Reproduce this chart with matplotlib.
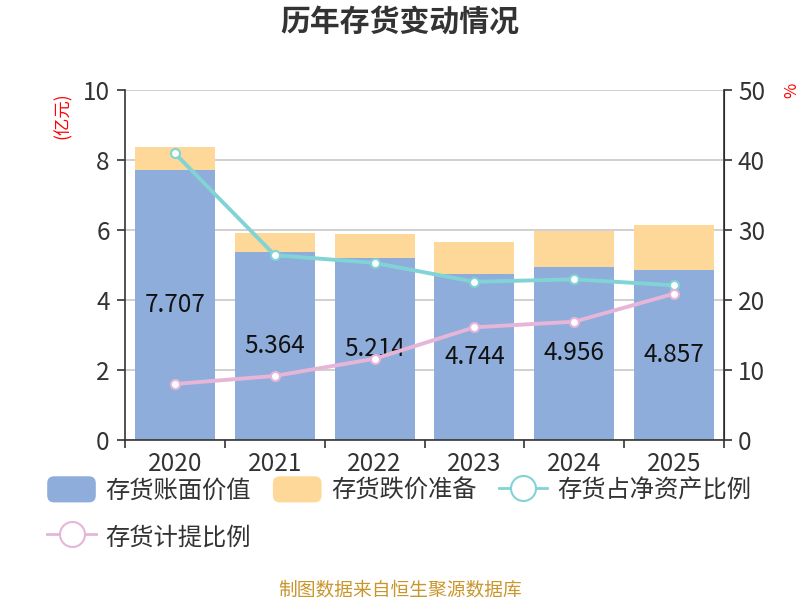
import numpy as np
import matplotlib
matplotlib.use("Agg")
import matplotlib.pyplot as plt
from matplotlib.lines import Line2D
from matplotlib.patches import Patch, FancyBboxPatch
from matplotlib.legend_handler import HandlerPatch

plt.rcParams['font.family'] = ['Noto Sans CJK SC', 'DejaVu Sans']

years = ['2020', '2021', '2022', '2023', '2024', '2025']
book_value = [7.707, 5.364, 5.214, 4.744, 4.956, 4.857]
impairment = [0.67, 0.54, 0.68, 0.91, 1.01, 1.28]
net_asset_ratio = [40.95, 26.4, 25.3, 22.6, 22.95, 22.1]
provision_ratio = [8.0, 9.15, 11.6, 16.1, 16.9, 20.9]

c_blue = '#8EADDA'
c_orange = '#FED898'
c_cyan = '#82D3D5'
c_pink = '#E6B5D8'
c_text = '#333333'
fs = 17.5

fig = plt.figure(figsize=(8, 6), dpi=100)
ax = fig.add_axes([0.15625, 0.2667, 0.74875, 0.5833])
ax2 = ax.twinx()

x = np.arange(len(years))
ax.bar(x, book_value, width=0.8, color=c_blue, zorder=2)
ax.bar(x, impairment, width=0.8, bottom=book_value, color=c_orange, zorder=2)
for xi, v in zip(x, book_value):
    ax.text(xi, v / 2, f'{v:.3f}', ha='center', va='center', fontsize=fs, color='#111111', zorder=5)

ax.set_xlim(-0.5, len(years) - 0.5)
ax.set_ylim(0, 10)
ax.set_yticks([0, 2, 4, 6, 8, 10])
ax.yaxis.grid(True, color='#c8c8c8', linewidth=1.2, zorder=0)
ax.set_axisbelow(True)
ax.set_xticks(x)
ax.set_xticklabels(years)
ax.set_xticks(np.arange(len(years) + 1) - 0.5, minor=True)
ax.tick_params(axis='x', which='major', length=0, labelsize=fs, labelcolor=c_text, pad=8)
ax.tick_params(axis='x', which='minor', length=6, color=c_text, width=1.2)
ax.tick_params(axis='y', length=6, width=1.2, color=c_text, labelsize=fs, labelcolor=c_text, pad=5)
ax.spines['top'].set_visible(False)
ax2.spines['top'].set_visible(False)
for s in ['left', 'bottom']:
    ax.spines[s].set_color(c_text)
    ax.spines[s].set_linewidth(1.2)
ax2.spines['right'].set_color(c_text)
ax2.spines['right'].set_linewidth(1.2)
ax2.spines['left'].set_visible(False)
ax2.spines['bottom'].set_visible(False)

ax2.plot(x, net_asset_ratio, color=c_cyan, linewidth=2.8, marker='o', markersize=6.5,
         markerfacecolor='white', markeredgecolor=c_cyan, markeredgewidth=1.5, zorder=6)
ax2.plot(x, provision_ratio, color=c_pink, linewidth=2.8, marker='o', markersize=6.5,
         markerfacecolor='white', markeredgecolor=c_pink, markeredgewidth=1.5, zorder=6)
ax2.set_ylim(0, 50)
ax2.set_yticks([0, 10, 20, 30, 40, 50])
ax2.tick_params(axis='y', length=6, width=1.2, color=c_text, labelsize=fs, labelcolor=c_text, pad=4)

fig.text(0.079, 0.808, '(亿元)', rotation=90, color='red', fontsize=12.5, ha='center', va='center')
fig.text(0.99, 0.85, '%', rotation=90, color='red', fontsize=12, ha='center', va='center')

fig.text(0.5, 0.962, '历年存货变动情况', ha='center', va='center', fontsize=21.5,
         fontweight='bold', color=c_text)
fig.text(0.5, 0.017, '制图数据来自恒生聚源数据库', ha='center', va='center', fontsize=13.5,
         color='#C9962C')


class RoundPatchHandler(HandlerPatch):
    def create_artists(self, legend, orig_handle, xdescent, ydescent, width, height, fontsize, trans):
        p = FancyBboxPatch((-xdescent, -ydescent - 1), width, height + 2,
                           boxstyle='round,pad=0,rounding_size=5',
                           facecolor=orig_handle.get_facecolor(), edgecolor='none',
                           transform=trans)
        return [p]


h_blue = Patch(facecolor=c_blue, label='存货账面价值')
h_orange = Patch(facecolor=c_orange, label='存货跌价准备')
h_cyan = Line2D([0], [0], color=c_cyan, linewidth=2, marker='o', markersize=18,
                markerfacecolor='white', markeredgecolor=c_cyan, markeredgewidth=1.5, label='存货占净资产比例')
h_pink = Line2D([0], [0], color=c_pink, linewidth=2, marker='o', markersize=18,
                markerfacecolor='white', markeredgecolor=c_pink, markeredgewidth=1.5, label='存货计提比例')
# column-major fill, so order gives rows: blue, orange, cyan / pink
handles = [h_blue, h_pink, h_orange, h_cyan]
fig.legend(handles=handles, loc='upper left', bbox_to_anchor=(0.059, 0.204), ncol=3,
           frameon=False, fontsize=fs, labelcolor=c_text, handlelength=2.0, handleheight=1.1,
           handletextpad=0.4, columnspacing=0.9, labelspacing=0.85, borderaxespad=0, borderpad=0,
           handler_map={Patch: RoundPatchHandler()})

fig.savefig('out.png', dpi=100)
